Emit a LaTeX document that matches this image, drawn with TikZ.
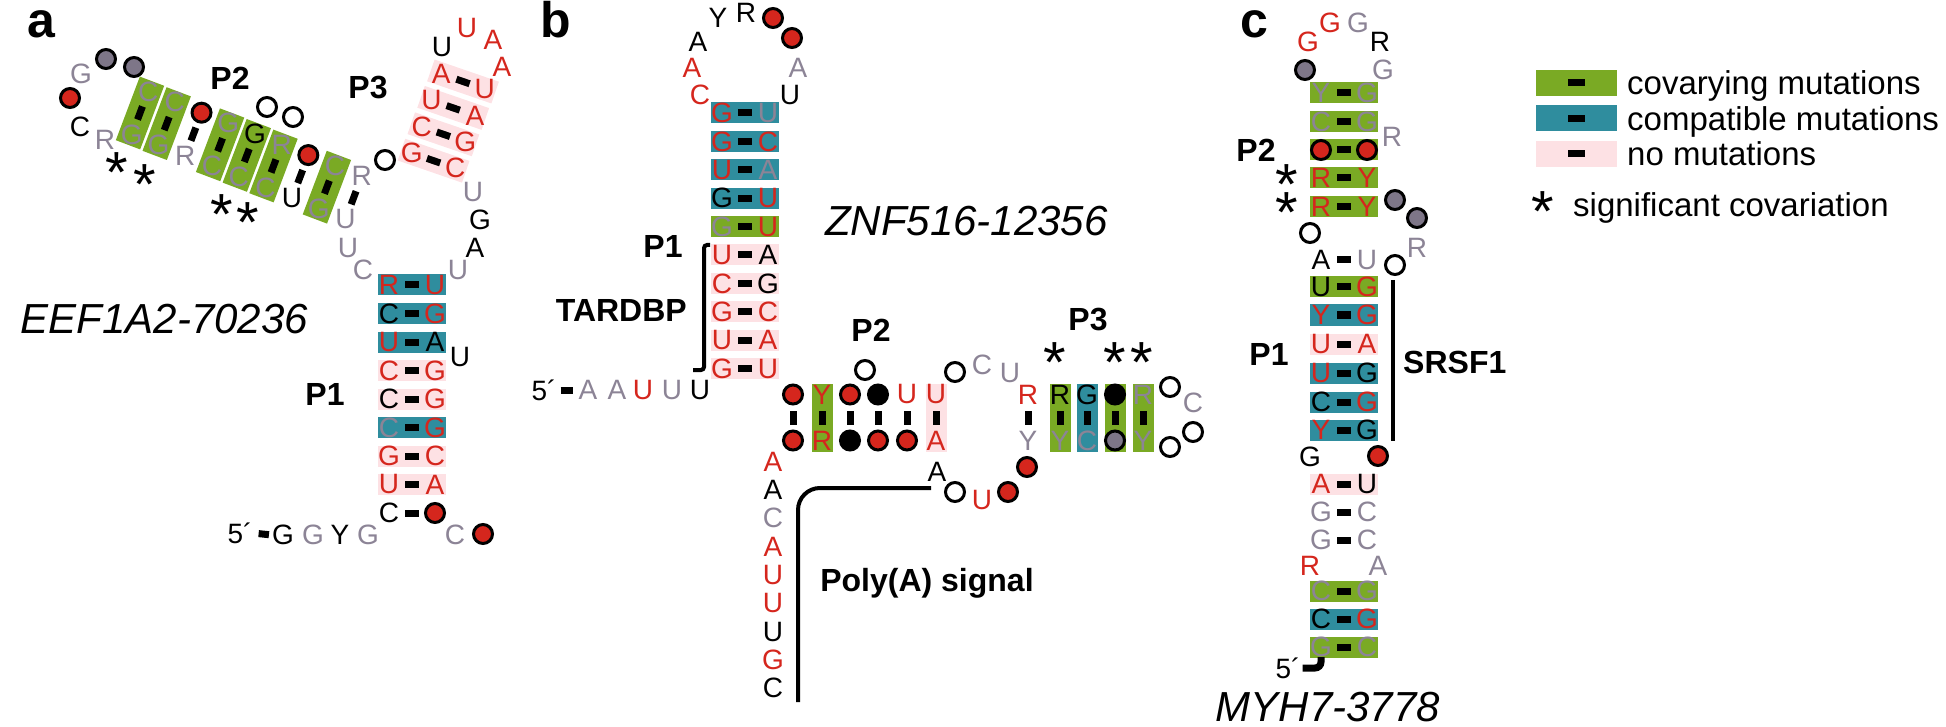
\documentclass[tikz,border=0pt]{standalone}
\usepackage{fontspec}
\setmainfont{Liberation Sans}
\usetikzlibrary{positioning}

\definecolor{covgreen}{RGB}{122,170,36}
\definecolor{compteal}{RGB}{47,141,158}
\definecolor{nomutpink}{RGB}{253,225,228}
\definecolor{ntred}{RGB}{213,38,29}
\definecolor{ntgrey}{RGB}{140,132,150}
\definecolor{dotgrey}{RGB}{126,118,136}

\newcommand{\ntsize}{\fontsize{28}{28}\selectfont}
\newcommand{\pairh}{10.5}
% one base pair: name, x, y, angle, box, left style, left text, right style, right text
\newcommand{\bpair}[9]{%
  \begin{scope}[shift={(#2,#3)},rotate=#4]
    \path[#5] (-34,-\pairh) rectangle (34,\pairh);
    \node[#6] (#1l) at (-23,0) {#7};
    \node[#8] (#1r) at (23,0) {#9};
  \end{scope}
  \draw[bond] (#1l.center) -- (#1r.center);}

\tikzset{
  nt/.style={inner sep=0pt,font=\ntsize},
  red nt/.style={nt,text=ntred},
  black nt/.style={nt,text=black},
  grey nt/.style={nt,text=ntgrey},
  dot/.style={circle,draw=black,line width=3pt,minimum size=19pt,inner sep=0pt},
  red dot/.style={dot,fill=ntred},
  black dot/.style={dot,fill=black},
  grey dot/.style={dot,fill=dotgrey},
  open dot/.style={dot,fill=white},
  cov box/.style={fill=covgreen},
  comp box/.style={fill=compteal},
  nomut box/.style={fill=nomutpink},
  plain box/.style={},
  bond/.style={line width=7pt,shorten <=16pt,shorten >=16pt},
  five dash/.style={line width=7pt},
  bracket/.style={line width=4pt},
  stem label/.style={inner sep=0pt,font=\bfseries\fontsize{32}{32}\selectfont},
  gene/.style={inner sep=0pt,font=\itshape\fontsize{42}{42}\selectfont},
  panel/.style={inner sep=0pt,font=\bfseries\fontsize{50}{50}\selectfont},
  sig/.style={inner sep=0pt,font=\fontsize{58}{58}\selectfont,text height=49.4pt,text depth=-29.4pt},
  legend box/.style={minimum width=81pt,minimum height=26pt,inner sep=0pt},
  legend text/.style={inner sep=0pt,font=\fontsize{33}{33}\selectfont,anchor=base west}
}

\begin{document}
\begin{tikzpicture}[x=1pt,y=-1pt]
  \useasboundingbox (0,0) rectangle (1946,727);

  % panel a
  \node[panel,anchor=base west] (a) at (27,38) {a};
  \foreach \bx/\ls/\lt/\rs/\rt [count=\k from 0] in {
      comp box/red nt/R/red nt/U, comp box/black nt/C/red nt/G,
      comp box/red nt/U/black nt/A, nomut box/red nt/C/red nt/G,
      nomut box/black nt/C/red nt/G, comp box/grey nt/C/red nt/G,
      nomut box/red nt/G/red nt/C, nomut box/red nt/U/red nt/A,
      plain box/black nt/C/red dot/{}}
    {\bpair{ap\k}{412}{285+28.5*\k}{0}{\bx}{\ls}{\lt}{\rs}{\rt}}
  \begin{scope}
    \renewcommand{\pairh}{13}
    \foreach \bx/\ls/\lt/\rs/\rt [count=\k from 0] in {
        cov box/grey nt/G/grey nt/C, cov box/grey nt/G/grey nt/C,
        plain box/grey nt/R/red dot/{}, cov box/grey nt/C/grey nt/G,
        cov box/grey nt/C/black nt/G, cov box/grey nt/C/grey nt/R,
        plain box/black nt/U/red dot/{}, cov box/grey nt/G/grey nt/C,
        plain box/grey nt/U/grey nt/R}
      {\bpair{aq\k}{140+26.7*\k}{113+10.6*\k}{69.3}{\bx}{\ls}{\lt}{\rs}{\rt}}
  \end{scope}
  \begin{scope}
    \renewcommand{\pairh}{11.5}
    \foreach \lt/\rt [count=\k from 0] in {A/U,U/A,C/G,G/C}
      {\bpair{ar\k}{463-9.8*\k}{81.5+26.4*\k}{-19}{nomut box}{red nt}{\lt}{red nt}{\rt}}
  \end{scope}
  \foreach \s/\t/\x/\y [count=\i] in {
      grey dot/{}/106/59, grey dot/{}/134/67, grey nt/G/81/74, red dot/{}/70/98,
      black nt/C/80/127, grey nt/R/105/140, open dot/{}/267/107, open dot/{}/293/117,
      open dot/{}/385/160, grey nt/U/348/248, grey nt/C/363/270, black nt/U/460/357,
      black nt/U/442/47, red nt/U/467/28, red nt/A/493/40, red nt/A/502/67,
      grey nt/U/473/192, black nt/G/480/220, black nt/A/475/248, grey nt/U/458/270,
      grey nt/C/455/535, red dot/{}/483/534}
    \node[\s] (au\i) at (\x,\y) {\t};
  \node[black nt] (a5) at (240,533) {5´};
  \foreach \s/\t/\x [count=\i] in {black nt/G/283, grey nt/G/313, black nt/Y/340, grey nt/G/368}
    \node[\s] (a5n\i) at (\x,535) {\t};
  \draw[five dash,shorten <=6pt,shorten >=3pt] (a5.east) -- (a5n1.west);
  \node[stem label] (aP2) at (230,78) {P2};
  \node[stem label] (aP3) at (368,88) {P3};
  \node[stem label] (aP1) at (325,394) {P1};
  \node[gene,anchor=east] (agene) at (308,319) {EEF1A2-70236};
  \foreach \x/\y [count=\i] in {117/168,145/180,222/210,248/218}
    \node[sig] (asig\i) at (\x,\y) {*};

  % panel b
  \node[panel,anchor=base west] (b) at (540,38) {b};
  \foreach \bx/\ls/\lt/\rs/\rt [count=\k from 0] in {
      comp box/red nt/G/grey nt/U, comp box/red nt/G/red nt/C,
      comp box/red nt/U/grey nt/A, comp box/black nt/G/red nt/U,
      cov box/grey nt/G/red nt/U, nomut box/red nt/U/black nt/A,
      nomut box/red nt/C/black nt/G, nomut box/red nt/G/red nt/C,
      nomut box/red nt/U/red nt/A, nomut box/red nt/G/red nt/U}
    {\bpair{bp\k}{745}{113+28.4*\k}{0}{\bx}{\ls}{\lt}{\rs}{\rt}}
  % P2 and P3 stand upright: left = lower base
  \foreach \x/\bx/\ls/\lt/\rs/\rt [count=\k] in {
      793/plain box/red dot/{}/red dot/{}, 822/cov box/red nt/R/red nt/Y,
      850/plain box/black dot/{}/red dot/{}, 878/plain box/red dot/{}/black dot/{},
      907/plain box/red dot/{}/red nt/U, 936/nomut box/red nt/A/red nt/U,
      1028/plain box/grey nt/Y/red nt/R, 1060/cov box/grey nt/Y/black nt/R,
      1087/comp box/grey nt/C/black nt/G, 1115/cov box/grey dot/{}/black dot/{},
      1143/cov box/grey nt/Y/grey nt/R}
    {\bpair{bq\k}{\x}{417.5}{90}{\bx}{\ls}{\lt}{\rs}{\rt}}
  \foreach \s/\t/\x/\y [count=\i] in {
      red nt/C/700/95, red nt/A/692/68, black nt/A/698/42, black nt/Y/718/18,
      black nt/R/746/13, red dot/{}/773/18, red dot/{}/792/38, grey nt/A/798/68,
      black nt/U/790/95, open dot/{}/865/370,
      red nt/A/773/462, black nt/A/773/490, grey nt/C/773/518, red nt/A/773/547,
      red nt/U/773/575, red nt/U/773/603, black nt/U/773/632, red nt/G/773/660,
      black nt/C/773/688,
      black nt/A/937/472, open dot/{}/955/492, red nt/U/982/500, red dot/{}/1008/492,
      red dot/{}/1027/467, open dot/{}/955/372, grey nt/C/982/365, grey nt/U/1010/373,
      open dot/{}/1170/387, grey nt/C/1193/403, open dot/{}/1193/432, open dot/{}/1170/447}
    \node[\s] (bu\i) at (\x,\y) {\t};
  \node[black nt] (b5) at (544,390) {5´};
  \foreach \s/\t/\x [count=\i] in {grey nt/A/588, grey nt/A/617, red nt/U/643, grey nt/U/672, black nt/U/700}
    \node[\s] (b5n\i) at (\x,390) {\t};
  \draw[five dash,shorten <=4pt,shorten >=5pt] (b5.east) -- (b5n1.west);
  \node[stem label] (bP1) at (663,246) {P1};
  \node[stem label,anchor=east] (bTARDBP) at (687,310) {TARDBP};
  \node[stem label] (bP2) at (871,330) {P2};
  \node[stem label] (bP3) at (1088,320) {P3};
  \node[stem label] (bpolyA) at (927,583) {Poly(A) signal};
  \node[gene,anchor=west] (bgene) at (825,221) {ZNF516-12356};
  \foreach \x [count=\i] in {1055,1115,1142}
    \node[sig] (bsig\i) at (\x,358) {*};
  \coordinate (tard top) at (710,245);
  \coordinate (tard bend) at (704,370);
  \coordinate (tard foot) at (693,370);
  \draw[bracket,rounded corners=3pt] (tard top) -| (tard bend) -- (tard foot);
  \coordinate (polyA top) at (931,488);
  \coordinate (polyA foot) at (798,702);
  \draw[bracket,rounded corners=22pt] (polyA top) -| (polyA foot);

  % panel c
  \node[panel,anchor=base west] (c) at (1240,38) {c};
  \foreach \y/\bx/\ls/\lt/\rs/\rt [count=\k] in {
      93/cov box/grey nt/Y/grey nt/G, 122/cov box/grey nt/C/grey nt/G,
      150/cov box/red dot/{}/red dot/{}, 178/cov box/red nt/R/red nt/Y,
      207/cov box/red nt/R/red nt/Y, 260/plain box/black nt/A/grey nt/U,
      287/cov box/black nt/U/red nt/G, 315/comp box/red nt/Y/red nt/G,
      344/nomut box/red nt/U/red nt/A, 373/comp box/red nt/U/black nt/G,
      402/comp box/black nt/C/red nt/G, 430/comp box/red nt/Y/black nt/G,
      484/nomut box/red nt/A/black nt/U, 512/plain box/grey nt/G/grey nt/C,
      540/plain box/grey nt/G/grey nt/C, 591/cov box/grey nt/C/grey nt/G,
      619/comp box/black nt/C/red nt/G, 647/cov box/grey nt/G/grey nt/C}
    {\bpair{cp\k}{1344}{\y}{0}{\bx}{\ls}{\lt}{\rs}{\rt}}
  \foreach \s/\t/\x/\y [count=\i] in {
      grey dot/{}/1305/70, red nt/G/1308/42, red nt/G/1330/23, grey nt/G/1358/23,
      black nt/R/1380/42, grey nt/G/1383/70, grey nt/R/1392/137,
      open dot/{}/1310/233, grey dot/{}/1395/200, grey dot/{}/1417/218,
      grey nt/R/1417/248, open dot/{}/1395/265,
      black nt/G/1310/457, red dot/{}/1378/456, red nt/R/1310/566, grey nt/A/1378/566}
    \node[\s] (cu\i) at (\x,\y) {\t};
  \node[black nt] (c5) at (1288,668) {5´};
  \draw[five dash,rounded corners=6pt,shorten <=2pt] (c5.east) -| (cp18l.south);
  \node[stem label] (cP2) at (1256,150) {P2};
  \node[stem label] (cP1) at (1269,354) {P1};
  \node[stem label,anchor=west] (cSRSF1) at (1403,362) {SRSF1};
  \node[gene] (cgene) at (1328,707) {MYH7-3778};
  \foreach \y [count=\i] in {180,208}
    \node[sig] (csig\i) at (1287,\y) {*};
  \coordinate (srsf top) at (1393,280);
  \coordinate (srsf foot) at (1393,441);
  \draw[bracket] (srsf top) -- (srsf foot);

  % legend
  \foreach \bx/\y/\t [count=\i] in {cov box/83/covarying mutations,
      comp box/118.5/compatible mutations, nomut box/154/no mutations} {
    \node[legend box,\bx] (key\i) at (1576.5,\y) {};
    \draw[five dash] ([xshift=-8.5pt]key\i.center) -- ([xshift=8.5pt]key\i.center);
    \node[legend text] (keytext\i) at (1627,\y+12) {\t};
  }
  \node[sig] (keysig) at (1543,207) {*};
  \node[legend text] (keysigtext) at (1573,217) {significant covariation};
\end{tikzpicture}
\end{document}
